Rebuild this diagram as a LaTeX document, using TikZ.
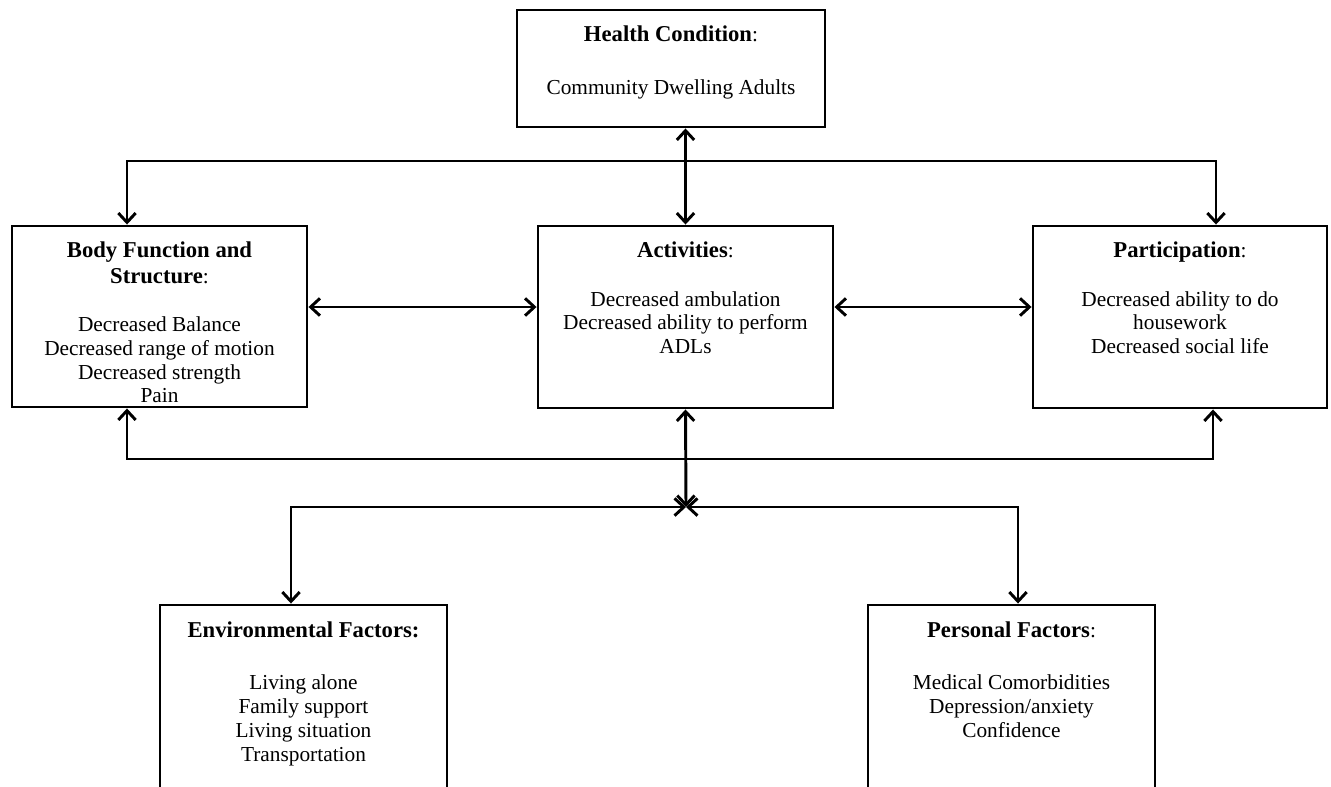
\documentclass[tikz,border=0pt]{standalone}
\usepackage{fontspec}
\setmainfont{Liberation Serif}
\usetikzlibrary{arrows.meta}
\newcommand{\ttl}[1]{{\fontsize{17}{17.8}\selectfont\textbf{#1}}}
\begin{document}
\begin{tikzpicture}[x=0.75pt,y=-0.75pt,
  line width=2.2pt,
  >={Straight Barb[length=7pt,width=13pt]},
  box/.style={draw=black, line width=2.2pt, fill=white, inner sep=0pt},
  txt/.style={anchor=north, align=center, inner sep=0pt, font=\fontsize{16}{17.8}\selectfont},
]
\useasboundingbox (0,0) rectangle (1331,786);
\clip (0,0) rectangle (1331,786);
\fill[white] (0,0) rectangle (1331,786);

% boxes
\node[box, minimum width=231pt, minimum height=87.75pt] (health) at (671,68.5) {};
\node[box, minimum width=221.25pt, minimum height=135.75pt] (body) at (159.5,316.5) {};
\node[box, minimum width=221.25pt, minimum height=136.5pt] (act) at (685.5,317) {};
\node[box, minimum width=220.5pt, minimum height=136.5pt] (part) at (1180,317) {};
\node[box, minimum width=215.25pt, minimum height=146.25pt] (env) at (303.5,702.5) {};
\node[box, minimum width=215.25pt, minimum height=146.25pt] (pers) at (1011.5,702.5) {};

% texts
\node[txt, yshift=-12pt] (healthtxt) at (health.north) {\ttl{Health Condition}:\\[22pt]Community Dwelling Adults};
\node[txt, yshift=-12pt] (bodytxt) at (body.north) {\ttl{Body Function and}\\[1.5pt]\ttl{Structure}:\\[18.4pt]Decreased Balance\\Decreased range of motion\\Decreased strength\\Pain};
\node[txt, yshift=-12pt] (acttxt) at (act.north) {\ttl{Activities}:\\[18.4pt]Decreased ambulation\\Decreased ability to perform\\ADLs};
\node[txt, yshift=-12pt] (parttxt) at (part.north) {\ttl{Participation}:\\[18.4pt]Decreased ability to do\\housework\\Decreased social life};
\node[txt, yshift=-12.5pt] (envtxt) at (env.north) {\ttl{Environmental Factors:}\\[21.5pt]Living alone\\Family support\\Living situation\\Transportation};
\node[txt, yshift=-12.5pt] (perstxt) at (pers.north) {\ttl{Personal Factors}:\\[21.5pt]Medical Comorbidities\\Depression/anxiety\\Confidence};

% connector coordinates
\coordinate (tl) at (127,161);
\coordinate (tr) at (1216,161);
\coordinate (bl) at (127,459);
\coordinate (br) at (1213,459);
\coordinate (hrow) at (0,307);
\coordinate (j) at (686,507);
\coordinate (el) at (291,507);
\coordinate (er) at (1018,507);

% connectors
\draw[<->] (act.north |- health.south) -- (act.north);
\draw[<->] (tl |- body.north) -- (tl) -- (tr) -- (tr |- part.north);
\draw[<->] (bl |- body.south) -- (bl) -- (br) -- (br |- part.south);
\draw[<->] (body.east |- hrow) -- (act.west |- hrow);
\draw[<->] (act.east |- hrow) -- (part.west |- hrow);
\draw[<->] (act.south) -- (j);
\draw[<->] (j) -- (el) -- (el |- env.north);
\draw[<->] (j) -- (er) -- (er |- pers.north);
\end{tikzpicture}
\end{document}
